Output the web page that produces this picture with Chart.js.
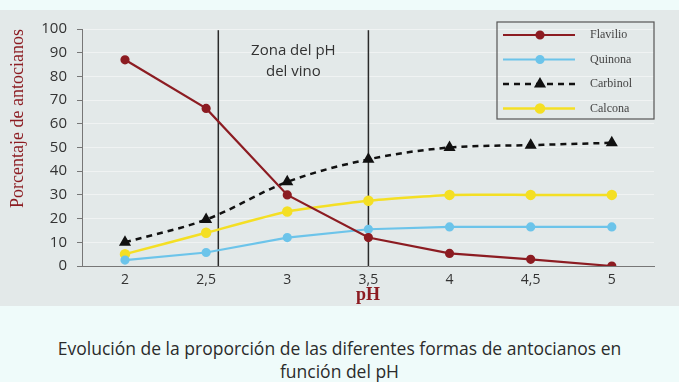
<!DOCTYPE html>
<html>
<head>
<meta charset="utf-8">
<script src="https://cdn.jsdelivr.net/npm/chart.js@4.4.0/dist/chart.umd.min.js"></script>
<style>
  html, body { margin: 0; padding: 0; background: #effbfa; width: 679px; height: 382px; overflow: hidden; }
  #panel { position: absolute; left: 0; top: 10px; width: 679px; height: 296px; background: #e3e9e9; }
  #caption { position: absolute; left: 0; top: 337px; width: 679px; text-align: center;
    font-family: "Open Sans", sans-serif; font-size: 17.5px; line-height: 23px; color: #2b2b2b; letter-spacing: 0px; }
</style>
</head>
<body>
<div id="panel"><canvas id="myChart" width="679" height="296"></canvas></div>
<div id="caption">Evolución de la proporción de las diferentes formas de antocianos en<br>función del pH</div>
<script>
// pH values on the x axis
const phValues = [2, 2.5, 3, 3.5, 4, 4.5, 5];
// percentage of each anthocyanin form
const flavilio = [87, 66.5, 30, 12, 5.3, 2.8, 0];
const quinona = [2.5, 5.7, 12, 15.5, 16.5, 16.5, 16.5];
const carbinol = [10, 19.6, 35.5, 45, 50, 51, 52];
const calcona = [5, 14, 23, 27.5, 30, 30, 30];
const seriesNames = ['Flavilio', 'Quinona', 'Carbinol', 'Calcona'];
// wine pH zone limits and its label
const zoneLimits = [2.575, 3.5];
const zoneLabel = ['Zona del pH', 'del vino'];
const yTicks = [0, 10, 20, 30, 40, 50, 60, 70, 80, 90, 100];

function pts(arr){
    return phValues.map((x, i) => ({x: x, y: arr[i]}));
}

// draws the two vertical lines and the zone text
const zonePlugin = {
    id: 'zone',
    beforeDatasetsDraw(chart){
        const ctx = chart.ctx;
        const xs = chart.scales.x, ys = chart.scales.y;
        ctx.save();
        ctx.strokeStyle = '#2a2a2a';
        ctx.lineWidth = 1.5;
        for (let v of zoneLimits){
            const px = xs.getPixelForValue(v);
            ctx.beginPath();
            ctx.moveTo(px, ys.getPixelForValue(99.5));
            ctx.lineTo(px, ys.getPixelForValue(0));
            ctx.stroke();
        }
        const cx = (xs.getPixelForValue(zoneLimits[0]) + xs.getPixelForValue(zoneLimits[1])) / 2;
        ctx.fillStyle = '#333';
        ctx.font = '15px "Open Sans", sans-serif';
        ctx.textAlign = 'center';
        ctx.textBaseline = 'middle';
        ctx.fillText(zoneLabel[0], cx, ys.getPixelForValue(90.8));
        ctx.fillText(zoneLabel[1], cx, ys.getPixelForValue(82));
        ctx.restore();
    }
};

// boxed legend in the top right corner
const boxLegend = {
    id: 'boxLegend',
    afterDraw(chart){
        const ctx = chart.ctx;
        const left = 497, top = 12, w = 157, h = 97;
        ctx.save();
        ctx.strokeStyle = '#555';
        ctx.lineWidth = 1.2;
        ctx.strokeRect(left, top, w, h);
        chart.data.datasets.forEach((ds, i) => {
            const y = top + 13 + i * 24.5;
            ctx.strokeStyle = ds.borderColor;
            ctx.lineWidth = ds.borderWidth;
            ctx.setLineDash(ds.borderDash || []);
            ctx.beginPath();
            ctx.moveTo(left + 6, y);
            ctx.lineTo(left + 78, y);
            ctx.stroke();
            ctx.setLineDash([]);
            ctx.fillStyle = ds.pointBackgroundColor;
            ctx.strokeStyle = ds.pointBackgroundColor;
            Chart.helpers.drawPoint(ctx, {
                pointStyle: ds.pointStyle, radius: ds.pointRadius,
                borderWidth: 1, rotation: 0
            }, left + 43, y);
            ctx.fillStyle = '#444';
            ctx.font = '12px "Liberation Serif", serif';
            ctx.textAlign = 'left';
            ctx.textBaseline = 'middle';
            ctx.fillText(seriesNames[i], left + 93, y);
        });
        ctx.restore();
    }
};

const config = {
    type: 'line',
    data: {
        datasets: [
            {label: seriesNames[0], data: pts(flavilio), borderColor: '#8c1c22', backgroundColor: '#8c1c22',
             pointBackgroundColor: '#8c1c22', pointBorderColor: '#8c1c22', borderWidth: 2.2,
             pointStyle: 'circle', pointRadius: 3.5, tension: 0},
            {label: seriesNames[1], data: pts(quinona), borderColor: '#6cc4ea', backgroundColor: '#6cc4ea',
             pointBackgroundColor: '#6cc4ea', pointBorderColor: '#6cc4ea', borderWidth: 2.2,
             pointStyle: 'circle', pointRadius: 3.5, tension: 0},
            {label: seriesNames[2], data: pts(carbinol), borderColor: '#111', backgroundColor: '#111',
             pointBackgroundColor: '#111', pointBorderColor: '#111', borderWidth: 2.5, borderDash: [6, 5],
             pointStyle: 'triangle', pointRadius: 4.5, cubicInterpolationMode: 'monotone'},
            {label: seriesNames[3], data: pts(calcona), borderColor: '#f4df24', backgroundColor: '#f4df24',
             pointBackgroundColor: '#f4df24', pointBorderColor: '#f4df24', borderWidth: 2.5,
             pointStyle: 'circle', pointRadius: 4, tension: 0.15}
        ]
    },
    options: {
        responsive: false,
        animation: false,
        layout: {padding: {top: 12, right: 25, left: 0, bottom: 0}},
        plugins: {legend: {display: false}, tooltip: {enabled: false}},
        scales: {
            x: {
                type: 'linear', min: 1.735, max: 5.26,
                afterBuildTicks: axis => { axis.ticks = phValues.map(v => ({value: v})); },
                afterFit: axis => { axis.height = 40; },
                grid: {display: false, drawTicks: false},
                border: {color: '#777', width: 1},
                ticks: {
                    color: '#333', padding: 6,
                    font: {family: '"Open Sans", sans-serif', size: 14},
                    callback: v => String(v).replace('.', ',')
                },
                title: {display: true, text: 'pH', color: '#8c1c22', padding: {top: -4, bottom: 0},
                        font: {family: '"Liberation Serif", serif', size: 18, weight: 'bold'}}
            },
            y: {
                min: 0, max: 100,
                afterBuildTicks: axis => { axis.ticks = yTicks.map(v => ({value: v})); },
                afterFit: axis => { axis.width = 82; },
                grid: {color: 'rgba(255,255,255,0.45)', drawTicks: true, tickLength: 5, tickColor: '#777', tickWidth: 1},
                border: {color: '#777', width: 1},
                ticks: {color: '#333', padding: 10, font: {family: '"Open Sans", sans-serif', size: 15}},
                title: {display: true, text: 'Porcentaje de antocianos', color: '#8c1c22', align: 'end',
                        padding: {top: 7, bottom: 0},
                        font: {family: '"Liberation Serif", serif', size: 18}}
            }
        }
    },
    plugins: [zonePlugin, boxLegend]
};

new Chart(document.getElementById('myChart').getContext('2d'), config);
</script>
</body>
</html>
